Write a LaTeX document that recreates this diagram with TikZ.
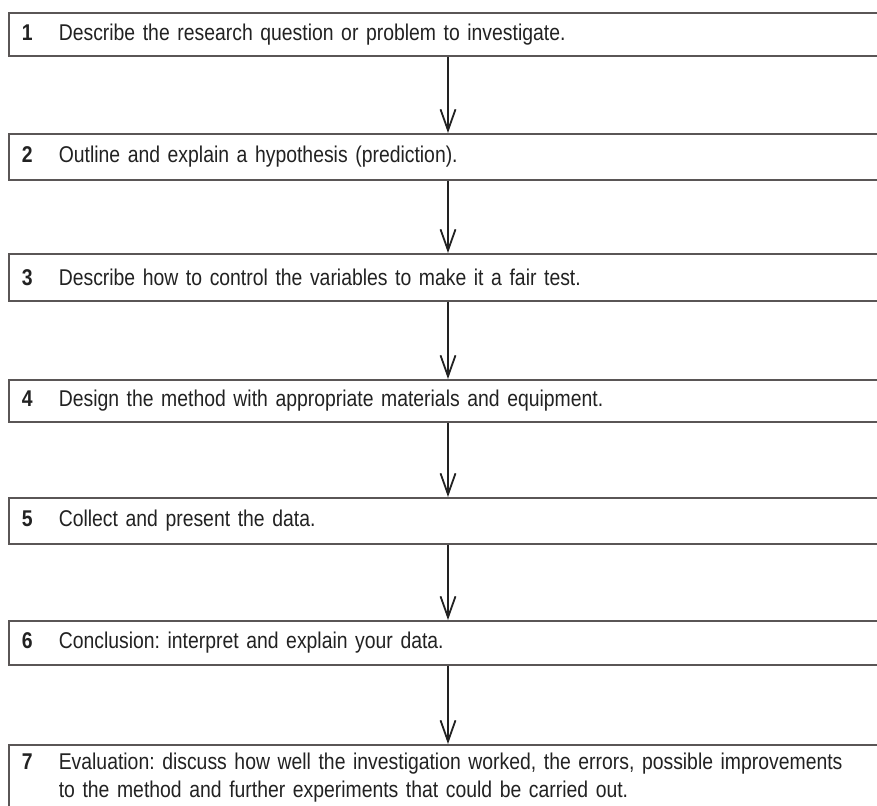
\documentclass[tikz,border=0pt]{standalone}
\usepackage{fontspec}
\setmainfont{Liberation Sans}[FakeStretch=0.85,WordSpace=0.85]
\usetikzlibrary{arrows.meta}
\definecolor{txt}{HTML}{222222}
\definecolor{edge}{HTML}{5A5656}
\newcommand\stepnum[1]{\makebox[37pt][l]{\bfseries #1}}
\frenchspacing
\begin{document}
\begin{tikzpicture}[x=1pt,y=-1pt,
  box/.style={draw=edge, line width=1.6pt, anchor=north west, minimum width=874pt,
    text width=848pt, inner xsep=12pt, inner ysep=0pt, align=left,
    font=\fontsize{22.8}{28}\selectfont, text=txt},
  arr/.style={draw=txt, line width=1.8pt, -{Straight Barb[length=21pt,width=15pt]}}]
\useasboundingbox (0,0) rectangle (877,805);
\fill[white] (0,0) rectangle (877,805);
\node[box, minimum height=43pt] (b1) at (8,12) {\stepnum{1}Describe the research question or problem to investigate.};
\node[box, minimum height=46pt] (b2) at (8,133) {\stepnum{2}Outline and explain a hypothesis (prediction).};
\node[box, minimum height=47pt] (b3) at (8,253) {\stepnum{3}Describe how to control the variables to make it a fair test.};
\node[box, minimum height=42pt] (b4) at (8,379) {\stepnum{4}Design the method with appropriate materials and equipment.};
\node[box, minimum height=46pt] (b5) at (8,497) {\stepnum{5}Collect and present the data.};
\node[box, minimum height=44pt] (b6) at (8,620) {\stepnum{6}Conclusion: interpret and explain your data.};
\node[box, minimum height=66pt] (b7) at (8,744) {\stepnum{7}\parbox[t]{815pt}{\fontsize{22.8}{28}\selectfont Evaluation: discuss how well the investigation worked, the errors, possible improvements\\ to the method and further experiments that could be carried out.}};
\coordinate (ax) at (448,0);
\draw[arr] (b1.south -| ax) -- (b2.north -| ax);
\draw[arr] (b2.south -| ax) -- (b3.north -| ax);
\draw[arr] (b3.south -| ax) -- (b4.north -| ax);
\draw[arr] (b4.south -| ax) -- (b5.north -| ax);
\draw[arr] (b5.south -| ax) -- (b6.north -| ax);
\draw[arr] (b6.south -| ax) -- (b7.north -| ax);
\end{tikzpicture}
\end{document}
